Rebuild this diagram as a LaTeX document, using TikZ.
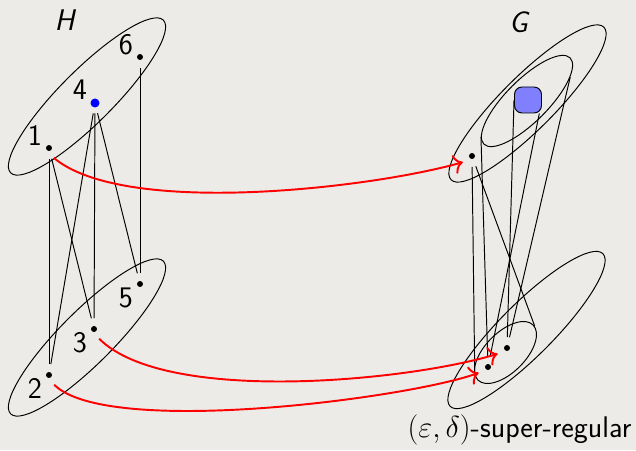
\documentclass[tikz,border=0pt]{standalone}
\usetikzlibrary{shapes.geometric}
\usetikzlibrary{arrows.meta}
\usetikzlibrary{calc}
\definecolor{slidebg}{RGB}{236,235,231}

\begin{document}
\begin{tikzpicture}[
        x=0.02cm, y=0.02cm,
        line width=0.55pt,
        font=\sffamily\fontsize{17}{20}\selectfont,
        vertex/.style={circle, fill=black, inner sep=0pt, minimum size=0.12cm, outer sep=0.16cm},
        bluevertex/.style={vertex, fill=blue, minimum size=0.18cm, outer sep=0.12cm},
        part/.style={ellipse, draw=black, inner sep=0pt, minimum width=4.32cm, minimum height=1.06cm, rotate=45},
        nbhd/.style={ellipse, draw=black, inner sep=0pt, rotate=45},
        blob/.style={rectangle, rounded corners=0.15cm, draw=black, fill=blue!50, minimum width=0.54cm, minimum height=0.52cm},
        lbl/.style={inner sep=0pt},
        link/.style={black},
        arrow/.style={-{To[scale=1.3]}, red, line width=1.1pt}
        ]

        \useasboundingbox (0,0) rectangle (636,450);
        \fill[slidebg] (0,0) rectangle (636,450);

        % H
        \node[part] (htop) at (87,353.5) {};
        \node[part] (hbot) at (87,112.5) {};
        \node[vertex] (v1) at (49,302) {};
        \node[bluevertex] (v4) at (95,347) {};
        \node[vertex] (v6) at (140,393) {};
        \node[vertex] (v2) at (49,75) {};
        \node[vertex] (v3) at (94,121) {};
        \node[vertex] (v5) at (140,166) {};
        \node[lbl] (l1) at ($(v1)+(-14,13)$) {1};
        \node[lbl] (l4) at ($(v4)+(-15,13)$) {4};
        \node[lbl] (l6) at ($(v6)+(-14,12)$) {6};
        \node[lbl] (l2) at ($(v2)+(-14,-13)$) {2};
        \node[lbl] (l3) at ($(v3)+(-14,-14)$) {3};
        \node[lbl] (l5) at ($(v5)+(-14,-14)$) {5};
        \node (hname) at (64.5,429.5) {\itshape H};

        % G
        \node[part] (gtop) at (527.5,346.5) {};
        \node[part] (gbot) at (526.5,120) {};
        \node[nbhd, minimum width=2.44cm, minimum height=0.84cm] (tin) at (527,349) {};
        \node[nbhd, minimum width=1.56cm, minimum height=0.8cm] (bin) at (505.5,97.5) {};
        \node[blob] (cand) at (528,350) {};
        \node[vertex] (g1) at (472,294) {};
        \node[vertex] (g2) at (488,83) {};
        \node[vertex] (g3) at (507,102) {};
        \node (gname) at (518.5,428) {\itshape G};
        \node (sr) at (519.5,20) {$(\varepsilon,\delta)$-super-regular};

        % Edges of H
        \draw[link] (v1) -- (v2);
        \draw[link] (v1) -- (v3);
        \draw[link] (v4) -- (v2);
        \draw[link] (v4) -- (v3);
        \draw[link] (v4) -- (v5);
        \draw[link] (v6) -- (v5);

        % Neighbourhoods in G
        \draw[link] (g1) -- (bin.172);
        \draw[link] (g1) -- (bin.-3);
        \draw[link] (tin.173) -- (g2);
        \draw[link] (tin.-16) -- (g3);
        \draw[link] (cand.west) -- (g3);
        \draw[link] (cand.-50) -- (g2);

        % Embedding
        \draw[arrow] (v1.-64) to[out=-40, in=196, looseness=0.58] (g1.214);
        \draw[arrow] (v3.-62) to[out=-45, in=197, looseness=0.6] (g3.212);
        \draw[arrow] (v2.-62) to[out=-45, in=200, looseness=0.45] (g2.212);

\end{tikzpicture}
\end{document}
